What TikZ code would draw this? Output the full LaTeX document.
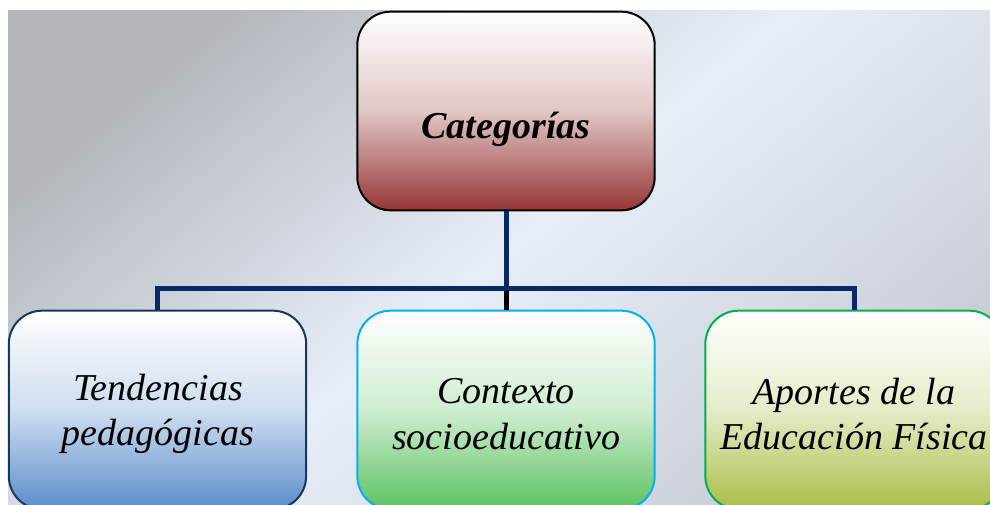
\documentclass[tikz,border=0pt]{standalone}
\usepackage{fontspec}
\setmainfont{Liberation Serif}
\definecolor{bgA}{HTML}{B4B8BD}
\definecolor{bgB}{HTML}{E8EEF8}
\definecolor{bgC}{HTML}{C9CED6}
\definecolor{navyln}{HTML}{0A2766}
\definecolor{redC}{HTML}{943634}
\definecolor{blueC}{HTML}{5B8DCB}
\definecolor{blueB}{HTML}{17375E}
\definecolor{greenC}{HTML}{5DC363}
\definecolor{cyanB}{HTML}{00B0F0}
\definecolor{oliveC}{HTML}{A8BE48}
\definecolor{greenB}{HTML}{00B050}
\begin{document}
\begin{tikzpicture}[x=0.75pt,y=-0.75pt,
  box/.style={rounded corners=25pt, minimum width=223pt, minimum height=149pt, line width=1.5pt, inner sep=0pt},
  lbl/.style={font=\fontsize{28.5}{34}\selectfont\itshape, align=center},
  conn/.style={draw=navyln, line width=3.75pt},
  connb/.style={draw=black, line width=3.75pt}]
\useasboundingbox (0,0) rectangle (990,504);
\clip (0,0) rectangle (990,504);
\fill[white] (0,0) rectangle (990,504);
\shade[top color=bgA, bottom color=bgC, middle color=bgB, shading angle=40] (8,10) rectangle (990,504);
% top box
\node[box, draw=black, top color=white, bottom color=redC, middle color=redC!28!white] (top) at (506,111) {};
\node[lbl, font=\fontsize{28.5}{34}\selectfont\bfseries\itshape] (ttop) at (506,129) {Categorías};
% bottom boxes
\node[box, draw=blueB, top color=white, bottom color=blueC, middle color=blueC!30!white] (b1) at (157.5,410) {};
\node[box, draw=cyanB, top color=white, bottom color=greenC, middle color=greenC!30!white] (b2) at (506,410) {};
\node[box, draw=greenB, top color=white, bottom color=oliveC, middle color=oliveC!30!white] (b3) at (854,410) {};
\node[lbl] (t1) at (158,414) {Tendencias\\pedagógicas};
\node[lbl] (t2) at (506,414) {Contexto\\socioeducativo};
\node[lbl] (t3) at (854,414) {Aportes de la\\Educación Física};
% connectors
\coordinate (bar) at (506,288);
\draw[connb] (bar) -- (b2.north);
\draw[conn] (top.south) -- (bar);
\draw[conn] (b1.north) -- (b1.north |- bar) -- (b3.north |- bar) -- (b3.north);
\end{tikzpicture}
\end{document}
